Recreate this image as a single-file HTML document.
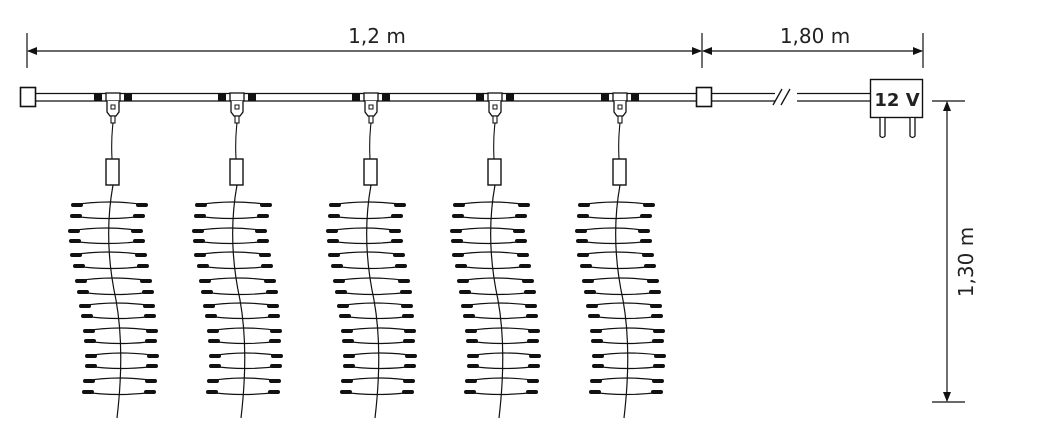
<!DOCTYPE html>
<html><head><meta charset="utf-8"><style>
html,body{margin:0;padding:0;background:#fff;}
svg{display:block;}
text{font-family:"DejaVu Sans","Liberation Sans",sans-serif;fill:#222;}
</style></head><body>
<svg width="1041" height="446" viewBox="0 0 1041 446" xmlns="http://www.w3.org/2000/svg">
<defs>
<marker id="a" markerWidth="10" markerHeight="8" refX="9" refY="4" orient="auto-start-reverse" markerUnits="userSpaceOnUse"><path d="M0,0 L10,4 L0,8 Z" fill="#111"/></marker>
<g id="conn">
  <rect x="-19" y="93" width="8" height="8" fill="#111"/>
  <rect x="11" y="93" width="8" height="8" fill="#111"/>
  <rect x="-7" y="93" width="14" height="8" fill="#fff" stroke="#111" stroke-width="1.3"/>
  <path d="M-6,101 L-6,112 L-3,116 L3,116 L6,112 L6,101" fill="#fff" stroke="#111" stroke-width="1.3"/>
  <rect x="-2" y="105" width="4" height="4" fill="none" stroke="#111" stroke-width="1"/>
  <rect x="-2" y="116" width="4" height="7" fill="#fff" stroke="#111" stroke-width="1.1"/>
  <path d="M0,123 Q-2,140 -1,159" fill="none" stroke="#111" stroke-width="1.1"/>
  <rect x="-7" y="159" width="13" height="26" fill="#fff" stroke="#111" stroke-width="1.4"/>
  <path d="M0,185 Q-10,240 3,300 Q12,350 4,418" fill="none" stroke="#111" stroke-width="1.2"/>
  <g fill="none" stroke="#111">
    <g stroke-width="1.2">
      <path d="M-41,205 Q-4,199 34,205"/><path d="M-42,216 Q-5,221 31,216"/>
      <path d="M-44,231 Q-6,225 29,231"/><path d="M-43,241 Q-6,246 31,241"/>
      <path d="M-42,255 Q-5,249 33,255"/><path d="M-39,266 Q-2,271 35,266"/>
      <path d="M-37,281 Q0,275 38,281"/><path d="M-35,292 Q2,297 40,292"/>
      <path d="M-33,306 Q4,300 41,306"/><path d="M-31,316 Q6,321 42,316"/>
      <path d="M-29,331 Q8,325 44,331"/><path d="M-28,341 Q8,346 43,341"/>
      <path d="M-27,356 Q9,350 45,356"/><path d="M-27,366 Q9,371 44,366"/>
      <path d="M-29,381 Q7,375 43,381"/><path d="M-30,392 Q6,397 42,392"/>
    </g>
    <g stroke-width="4" stroke-linecap="round">
      <path d="M-40,205 h8 M25,205 h8 M-41,216 h8 M22,216 h8 M-43,231 h8 M20,231 h8 M-42,241 h8 M22,241 h8 M-41,255 h8 M24,255 h8 M-38,266 h8 M26,266 h8 M-36,281 h8 M29,281 h8 M-34,292 h8 M31,292 h8 M-32,306 h8 M32,306 h8 M-30,316 h8 M33,316 h8 M-28,331 h8 M35,331 h8 M-27,341 h8 M34,341 h8 M-26,356 h8 M36,356 h8 M-26,366 h8 M35,366 h8 M-28,381 h8 M34,381 h8 M-29,392 h8 M33,392 h8"/>
    </g>
  </g>
</g>
</defs>

<g stroke="#111" stroke-width="1.2">
  <line x1="27" y1="33" x2="27" y2="68"/>
  <line x1="702" y1="33" x2="702" y2="68"/>
  <line x1="923" y1="33" x2="923" y2="68"/>
  <line x1="28" y1="51" x2="701" y2="51" marker-start="url(#a)" marker-end="url(#a)"/>
  <line x1="703" y1="51" x2="922" y2="51" marker-start="url(#a)" marker-end="url(#a)"/>
  <line x1="932" y1="101" x2="965" y2="101"/>
  <line x1="932" y1="402" x2="965" y2="402"/>
  <line x1="947" y1="102" x2="947" y2="401" marker-start="url(#a)" marker-end="url(#a)"/>
</g>
<text x="377" y="43" font-size="20" text-anchor="middle">1,2 m</text>
<text x="815" y="43" font-size="20" text-anchor="middle">1,80 m</text>
<text x="0" y="0" font-size="20" text-anchor="middle" transform="translate(973,262) rotate(-90)">1,30 m</text>

<g stroke="#111" stroke-width="1.3" fill="none">
  <line x1="36" y1="93.5" x2="870" y2="93.5"/>
  <line x1="36" y1="101" x2="870" y2="101"/>
</g>
<rect x="775" y="90" width="22" height="14" fill="#fff"/>
<g stroke="#111" stroke-width="1.3">
  <line x1="773" y1="105" x2="782" y2="89"/>
  <line x1="781" y1="105" x2="790" y2="89"/>
</g>
<rect x="20.5" y="87.5" width="15" height="19" fill="#fff" stroke="#111" stroke-width="1.6"/>
<rect x="696.5" y="87.5" width="15" height="19" fill="#fff" stroke="#111" stroke-width="1.6"/>

<rect x="870.5" y="79.5" width="52" height="38" fill="#fff" stroke="#111" stroke-width="1.4"/>
<text x="897" y="106" font-size="18" font-weight="bold" text-anchor="middle" font-family="Liberation Sans, sans-serif">12 V</text>
<path d="M880,118 V136 Q882.5,139 885,136 V118" fill="#fff" stroke="#111" stroke-width="1.3"/>
<path d="M910,118 V136 Q912.5,139 915,136 V118" fill="#fff" stroke="#111" stroke-width="1.3"/>

<use href="#conn" transform="translate(113,0)"/>
<use href="#conn" transform="translate(237,0)"/>
<use href="#conn" transform="translate(371,0)"/>
<use href="#conn" transform="translate(495,0)"/>
<use href="#conn" transform="translate(620,0)"/>
</svg>
</body></html>
